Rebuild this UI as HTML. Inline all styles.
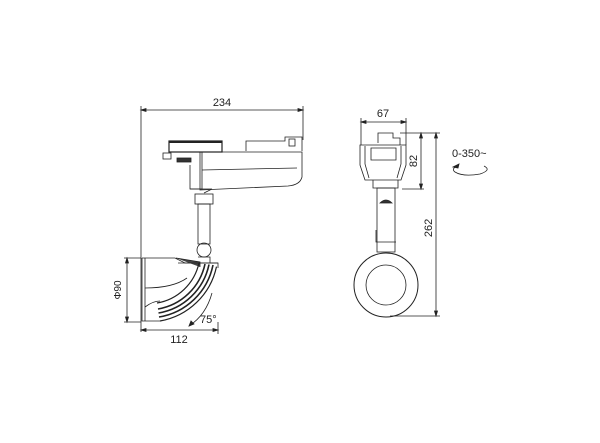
<!DOCTYPE html>
<html><head><style>html,body{margin:0;padding:0;background:#fff}svg{display:block}</style></head><body>
<svg width="600" height="443" viewBox="0 0 600 443" xmlns="http://www.w3.org/2000/svg" font-family="Liberation Sans, sans-serif" fill="none" stroke="#222" stroke-width="0.8">
<!-- 234 dim -->
<line x1="141" y1="110" x2="303" y2="110"/>
<line x1="141" y1="106" x2="141" y2="332"/>
<line x1="303" y1="106" x2="303" y2="140"/>
<path d="M141 110l5 -1.5v3zM303 110l-5 -1.5v3z" fill="#222"/>
<text x="222" y="106" font-size="11" fill="#222" stroke="none" text-anchor="middle">234</text>
<!-- track head -->
<rect x="169" y="141" width="53" height="11" stroke-width="1.2"/>
<line x1="169" y1="142" x2="222" y2="142" stroke-width="2"/>
<rect x="163" y="153" width="8" height="6"/>
<rect x="177" y="158" width="14" height="4" fill="#333"/>
<path d="M246 151v-10h39v-4h17v14"/>
<rect x="289" y="139" width="6" height="7"/>
<path d="M190 152h112v25q-2 8 -14 9l-88 4v-38z"/>
<path d="M202 170l95 -2"/>
<path d="M190 165v24h12v-37"/>
<path d="M190 189h22l-8 4"/>
<!-- stem -->
<rect x="195" y="194" width="18" height="10"/>
<rect x="198" y="204" width="12" height="40"/>
<circle cx="204" cy="250" r="7"/>
<path d="M198 257h12v6"/>
<!-- lamp head -->
<path d="M142 258h33l10 5h33"/>
<path d="M142 258v63h18"/>
<path d="M145 258v63"/>
<path d="M176 258l24 4v5" fill="#444"/>
<path d="M178 263h40v5"/>
<path d="M216.5 266.6A70 70 0 0 1 160 321" stroke-width="1.2"/>
<path d="M213 265A66 66 0 0 1 159 317" stroke-width="1.6"/>
<path d="M209 264.5A62 62 0 0 1 158.5 313" stroke-width="1.6"/>
<path d="M205 264A58 58 0 0 1 158 309" stroke-width="1.6"/>
<path d="M199 263A52 52 0 0 1 157 303" stroke-width="1.2"/>
<path d="M145 288q28 0 42 -10"/>
<path d="M145 307q8 -6 15 -6"/>
<!-- 90 dim -->
<line x1="127" y1="258" x2="127" y2="322"/>
<line x1="124" y1="258" x2="141" y2="258"/>
<line x1="124" y1="322" x2="141" y2="322"/>
<path d="M127 258l-1.5 5h3zM127 322l-1.5 -5h3z" fill="#222"/>
<text transform="translate(121 290) rotate(-90)" font-size="10" fill="#222" stroke="none" text-anchor="middle">Φ90</text>
<!-- 75 arc -->
<path d="M212 293q-6 22 -23 33" />
<path d="M189 326l2 -5 3 3z" fill="#222"/>
<text x="200" y="323" font-size="11" fill="#222" stroke="none">75°</text>
<!-- 112 dim -->
<line x1="141" y1="330" x2="218" y2="330"/>
<line x1="218" y1="322" x2="218" y2="334"/>
<path d="M141 330l5 -1.5v3zM218 330l-5 -1.5v3z" fill="#222"/>
<text x="179" y="343" font-size="11" fill="#222" stroke="none" text-anchor="middle">112</text>

<!-- right view -->
<line x1="361" y1="122" x2="406" y2="122"/>
<line x1="361" y1="118" x2="361" y2="145"/>
<line x1="406" y1="118" x2="406" y2="145"/>
<path d="M361 122l5 -1.5v3zM406 122l-5 -1.5v3z" fill="#222"/>
<text x="383" y="117" font-size="11" fill="#222" stroke="none" text-anchor="middle">67</text>
<path d="M378 143v-10h15v5h7v7"/>
<path d="M360 145h46v20l-5 15h-36l-5 -15z"/>
<path d="M365 146v18l4 14M401 146v18l-4 14"/>
<path d="M371 148h25v12h-25z"/>
<path d="M373 180v8h25v-8"/>
<rect x="377" y="188" width="18" height="64"/>
<path d="M380 203q6 -6 12 0z" fill="#333"/>
<path d="M376 230v12h20"/>
<circle cx="386" cy="285" r="32" stroke-width="1"/>
<circle cx="386" cy="285" r="20"/>
<!-- 82 dim -->
<line x1="400" y1="133" x2="440" y2="133"/>
<line x1="402" y1="189" x2="424" y2="189"/>
<line x1="421" y1="133" x2="421" y2="189"/>
<path d="M421 133l-1.5 5h3zM421 189l-1.5 -5h3z" fill="#222"/>
<text transform="translate(417 161) rotate(-90)" font-size="11" fill="#222" stroke="none" text-anchor="middle">82</text>
<line x1="436" y1="133" x2="436" y2="316"/>
<line x1="390" y1="316" x2="440" y2="316"/>
<path d="M436 133l-1.5 5h3zM436 316l-1.5 -5h3z" fill="#222"/>
<text transform="translate(432 228) rotate(-90)" font-size="11" fill="#222" stroke="none" text-anchor="middle">262</text>
<text x="452" y="157" font-size="11" fill="#222" stroke="none">0-350~</text>
<path d="M457 166q-6 3 -2 6q8 5 25 2q12 -4 4 -8"/>
<path d="M453 167l6 -3 -1 4z" fill="#222"/>
</svg>
</body></html>
